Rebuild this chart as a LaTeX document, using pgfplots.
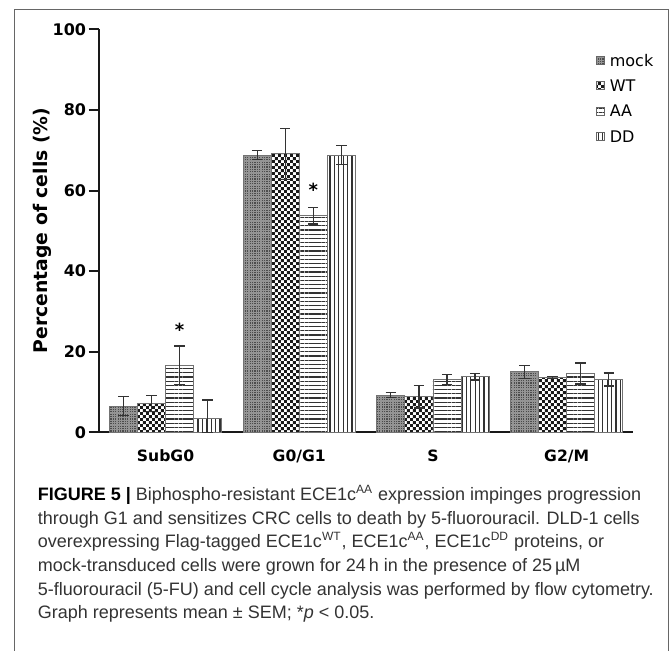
\documentclass[border=0pt]{standalone}
\usepackage{pgfplots}
\pgfplotsset{compat=1.18}
\usepackage{fontspec}
\setmainfont{Liberation Sans}
\newfontfamily\djvfont{DejaVu Sans}
\usetikzlibrary{patterns}
\pgfdeclarepatternformonly{mychecker}{\pgfpointorigin}{\pgfqpoint{3.2pt}{3.2pt}}{\pgfqpoint{3.2pt}{3.2pt}}{%
  \pgfpathrectangle{\pgfpointorigin}{\pgfqpoint{1.6pt}{1.6pt}}%
  \pgfpathrectangle{\pgfqpoint{1.6pt}{1.6pt}}{\pgfqpoint{1.6pt}{1.6pt}}%
  \pgfusepath{fill}}
\pgfdeclarepatternformonly{myhlines}{\pgfqpoint{-1pt}{-1pt}}{\pgfqpoint{1pt}{3pt}}{\pgfqpoint{2.1pt}{2.1pt}}{%
  \pgfsetlinewidth{0.6pt}\pgfpathmoveto{\pgfqpoint{-1pt}{0pt}}\pgfpathlineto{\pgfqpoint{3pt}{0pt}}\pgfusepath{stroke}}
\pgfdeclarepatternformonly{myvlines}{\pgfqpoint{-1pt}{-1pt}}{\pgfqpoint{3pt}{1pt}}{\pgfqpoint{2.2pt}{2.2pt}}{%
  \pgfsetlinewidth{0.6pt}\pgfpathmoveto{\pgfqpoint{0pt}{-1pt}}\pgfpathlineto{\pgfqpoint{0pt}{3pt}}\pgfusepath{stroke}}
\pgfdeclarepatternformonly{mydots}{\pgfqpoint{-0.5pt}{-0.5pt}}{\pgfqpoint{1.5pt}{1.5pt}}{\pgfqpoint{1.2pt}{1.2pt}}{%
  \pgfpathrectangle{\pgfpointorigin}{\pgfqpoint{0.6pt}{0.6pt}}\pgfusepath{fill}}

\pgfplotstableread{
x mock mockE wt wtE aa aaE dd ddE ddM
0 6.5  2.4 7.2  2.0 16.6 4.8 3.5  4.5 3.5
1 68.8 1.1 69.1 6.3 53.7 2.0 68.8 2.3 2.3
2 9.2  0.6 8.85 2.8 13.1 1.2 13.8 0.8 0.8
3 15.0 1.6 13.6 0.2 14.6 2.6 13.1 1.6 1.6
}\datatable

\begin{document}
\begin{tikzpicture}
\path[use as bounding box] (0,0) rectangle (334.5pt,325pt);
\draw[black!60, line width=0.5pt] (7pt,-1pt) -- (7pt,320.5pt) -- (334pt,320.5pt) -- (334pt,-1pt);
\begin{axis}[
  at={(49.35pt,108.85pt)}, anchor=south west,
  scale only axis, width=267.4pt, height=201.5pt,
  xmin=-0.5, xmax=3.5, ymin=0, ymax=100,
  axis lines=left, axis line style={-, line width=1.1pt, black!90},
  ybar=0pt, bar width=0.21,
  xtick={0,1,2,3}, xticklabels={SubG0,G0/G1,S,G2/M},
  x tick style={draw=none},
  xticklabel style={font=\djvfont\bfseries\fontsize{7.8}{8}\selectfont, anchor=base, yshift=-9.5pt},
  ytick={0,20,40,60,80,100},
  y tick style={line width=1pt, black!90},
  tick align=outside, major tick length=5pt,
  /pgf/number format/assume math mode=true,
  yticklabel style={font=\djvfont\bfseries\fontsize{8}{8}\selectfont, inner xsep=0.5pt, xshift=-0.6pt},
  clip=false,
  legend cell align=left,
  legend style={at={(rel axis cs:0.929,0.942)}, anchor=north west, draw=none, fill=none,
    font=\djvfont\fontsize{8}{8}\selectfont, row sep=5.3pt, inner sep=0pt,
    nodes={inner sep=0.6pt, text height=5.9pt, text depth=0.3pt},
    /tikz/every odd column/.append style={column sep=2.2pt}},
  legend image code/.code={\draw[#1,draw=black!60,line width=0.35pt] (0pt,-1.8pt) rectangle (3.8pt,2.2pt);},
  error bars/error bar style={line width=0.6pt, black!80},
  error bars/error mark options={rotate=90, mark size=2.6pt, line width=0.6pt, black!80},
]
\addplot[draw=black!55, line width=0.4pt, fill=black!42, postaction={pattern=mydots, pattern color=black!70},
  error bars/.cd, y dir=both, y explicit]
  table[x=x, y=mock, y error=mockE] {\datatable};
\addplot[draw=black!55, line width=0.4pt, fill=white, postaction={pattern=mychecker, pattern color=black!90},
  error bars/.cd, y dir=both, y explicit]
  table[x=x, y=wt, y error=wtE] {\datatable};
\addplot[draw=black!55, line width=0.4pt, fill=white, postaction={pattern=myhlines, pattern color=black!80},
  error bars/.cd, y dir=both, y explicit]
  table[x=x, y=aa, y error=aaE] {\datatable};
\addplot[draw=black!55, line width=0.4pt, fill=white, postaction={pattern=myvlines, pattern color=black!80},
  error bars/.cd, y dir=both, y explicit]
  table[x=x, y=dd, y error plus=ddE, y error minus=ddM] {\datatable};
\legend{mock,WT,AA,DD}
\node[font=\djvfont\bfseries\fontsize{9}{9}\selectfont] at (axis cs:0.105,25.5) {*};
\node[font=\djvfont\bfseries\fontsize{9}{9}\selectfont] at (axis cs:1.105,60.2) {*};
\end{axis}
\node[rotate=90, font=\djvfont\bfseries\fontsize{9.4}{9.4}\selectfont] at (21.35pt,209.75pt) {Percentage of cells (\%)};
\begin{scope}[every node/.style={anchor=base west, inner sep=0pt, font=\fontsize{9}{11.8}\selectfont, text=black!80}]
\node at (18.75pt,74.65pt) {\textbf{\textcolor{black}{FIGURE 5 |}} Biphospho-resistant ECE1c\textsuperscript{AA} expression impinges progression};
\node at (18.75pt,62.85pt) {through G1 and sensitizes CRC cells to death by 5-fluorouracil. DLD-1 cells};
\node at (18.75pt,51.05pt) {overexpressing Flag-tagged ECE1c\textsuperscript{WT}, ECE1c\textsuperscript{AA}, ECE1c\textsuperscript{DD} proteins, or};
\node at (18.75pt,39.25pt) {mock-transduced cells were grown for 24\,h in the presence of 25\,µM};
\node at (18.75pt,27.45pt) {5-fluorouracil (5-FU) and cell cycle analysis was performed by flow cytometry.};
\node at (18.75pt,15.65pt) {Graph represents mean ± SEM; *\textit{p} < 0.05.};
\end{scope}
\end{tikzpicture}
\end{document}
